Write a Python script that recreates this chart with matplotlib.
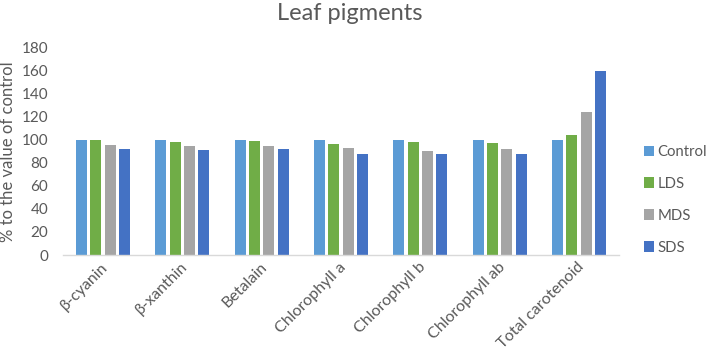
import matplotlib
matplotlib.use("Agg")
import matplotlib.pyplot as plt
import numpy as np

categories = ["β-cyanin", "β-xanthin", "Betalain", "Chlorophyll a",
              "Chlorophyll b", "Chlorophyll ab", "Total carotenoid"]
series_names = ["Control", "LDS", "MDS", "SDS"]
control = [100, 100, 100, 100, 100, 100, 100]
lds = [99.5, 98.3, 98.9, 96.6, 98.3, 97.1, 104.4]
mds = [95.1, 94.6, 94.9, 93.2, 90.5, 92.0, 124.0]
sds = [92.2, 91.1, 92.0, 87.6, 87.3, 87.6, 160.0]
yticks = [0, 20, 40, 60, 80, 100, 120, 140, 160, 180]

colors = ["#5B9BD5", "#70AD47", "#A5A5A5", "#4472C4"]
txt = "#595959"
plt.rcParams['font.family'] = ['Lato', 'DejaVu Sans']

fig = plt.figure(figsize=(7.09, 3.53), dpi=100)
ax = fig.add_axes([0.0894, 0.2776, 0.7831, 0.5878])

x = np.arange(len(categories))
width = 0.139
step = 0.18
for i, (vals, name) in enumerate(zip([control, lds, mds, sds], series_names)):
    ax.bar(x + (i - 1.5) * step, vals, width, color=colors[i], label=name)

ax.set_xlim(-0.5, len(categories) - 0.5)
ax.set_ylim(0, 180)
ax.set_yticks(yticks)
ax.set_yticklabels([str(v) for v in yticks], fontsize=11, color=txt)
ax.set_xticks(x)
ax.set_xticklabels([])
for i, cat in enumerate(categories):
    ax.annotate(cat, xy=(x[i], 0), xycoords=('data', 'axes fraction'),
                xytext=(5.8, -3.5), textcoords='offset points',
                rotation=45, ha='right', va='top', fontsize=11.5, color=txt)
ax.tick_params(axis='both', length=0)
ax.tick_params(axis='y', pad=11)
for s in ['top', 'right', 'left']:
    ax.spines[s].set_visible(False)
ax.spines['bottom'].set_color('#D9D9D9')
ax.spines['bottom'].set_linewidth(1.0)

ax.set_ylabel("% to the value of control", fontsize=12, color=txt)
ax.yaxis.set_label_coords(-0.086, 0.5)

fig.text(0.494, 0.962, "Leaf pigments", ha='center', va='center', fontsize=17, color=txt)

leg = ax.legend(loc='center left', bbox_to_anchor=(1.027, 0.266), frameon=False,
                fontsize=10.7, handlelength=0.7, handleheight=0.7, handletextpad=0.22,
                labelspacing=1.2, labelcolor=txt, borderaxespad=0.3)

fig.savefig("out.png", dpi=100)
